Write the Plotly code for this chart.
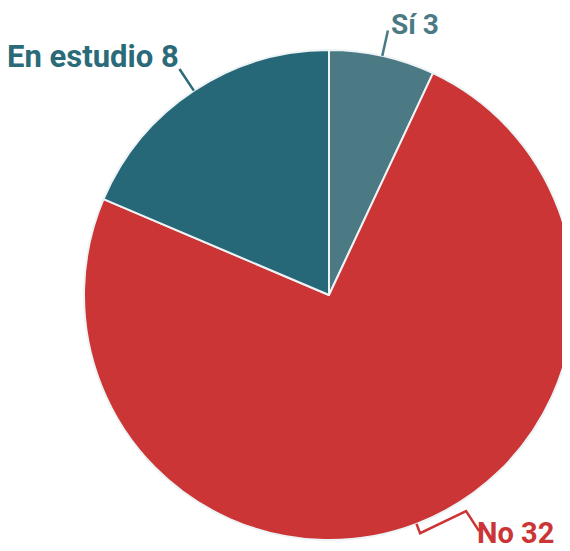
import math
import plotly.graph_objects as go

labels = ["Sí", "No", "En estudio"]
values = [3, 32, 8]
colors = ["#4b7a85", "#cc3535", "#276878"]
text_colors = ["#4b7a85", "#cc3535", "#2b6a79"]
font_sizes = [28, 29, 31]

# page body has an 8px margin, so the figure is laid out 8px up/left
OFF = 8
W, H = 570, 551
R = 245
cx, cy = 329 - OFF, 295 - OFF
ml, mt = cx - R, cy - R
pw = ph = 2 * R
mr, mb = W - ml - pw, H - mt - ph


def to_paper(px, py):
    return (px - ml) / pw, 1 - (py - mt) / ph


fig = go.Figure(go.Pie(
    labels=labels, values=values, sort=False, direction="clockwise",
    rotation=0, textinfo="none", hoverinfo="label+value",
    marker=dict(colors=colors, line=dict(color="#eef3f5", width=2)),
    showlegend=False,
))

# label placement from slice mid-angles (clockwise from 12 o'clock)
total = sum(values)
start = 0
label_cfg = {
    "Sí": dict(rlen=26, legs=[], anchor="left", dx=1, dy=-6),
    "En estudio": dict(rlen=26, legs=[], anchor="right", dx=2, dy=-12),
    "No": dict(rlen=10, legs=[(46, -22), (13, 20)], anchor="left", dx=-4, dy=2),
}
for lab, val, tc, fs in zip(labels, values, text_colors, font_sizes):
    mid = (start + val / 2) / total * 2 * math.pi
    start += val
    s, c = math.sin(mid), -math.cos(mid)
    cfg = label_cfg[lab]
    pts = [(cx + R * s, cy + R * c),
           (cx + (R + cfg["rlen"]) * s, cy + (R + cfg["rlen"]) * c)]
    for ddx, ddy in cfg["legs"]:
        px, py = pts[-1]
        pts.append((px + ddx, py + ddy))
    path = ""
    for i, (px, py) in enumerate(pts):
        xp, yp = to_paper(px, py)
        path += ("M" if i == 0 else "L") + f"{xp:.5f},{yp:.5f} "
    fig.add_shape(type="path", path=path, xref="paper", yref="paper",
                  line=dict(color=tc, width=2.5))
    ex, ey = pts[-1]
    tx, ty = to_paper(ex + cfg["dx"], ey + cfg["dy"])
    fig.add_annotation(
        x=tx, y=ty, xref="paper", yref="paper", showarrow=False,
        text=f"{lab} {val}", xanchor=cfg["anchor"], yanchor="middle",
        font=dict(family="Roboto", size=fs, color=tc, weight=700),
    )

fig.update_layout(
    width=W, height=H,
    margin=dict(l=ml, r=mr, t=mt, b=mb),
    paper_bgcolor="white", plot_bgcolor="white",
)

fig.write_html("out.html")
